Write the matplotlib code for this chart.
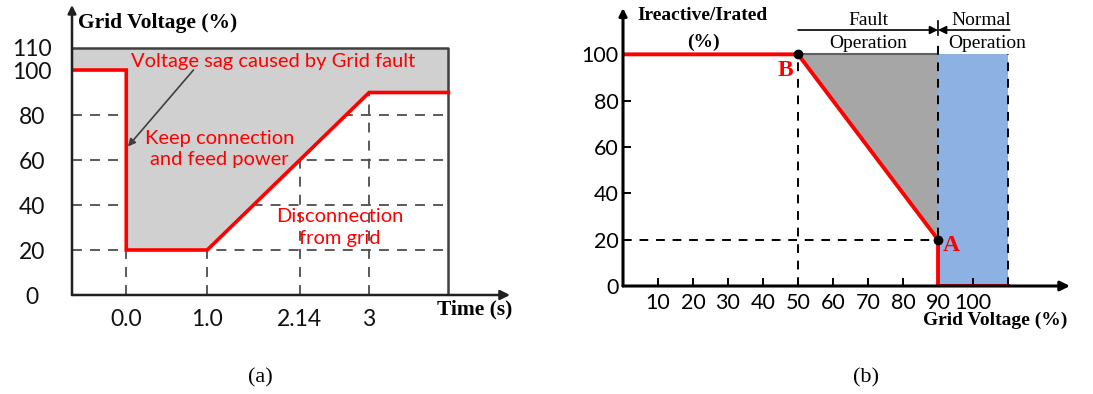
import numpy as np
import matplotlib
matplotlib.use("Agg")
import matplotlib.pyplot as plt

# ---- (a) fault ride-through voltage profile ----
t_ticks = [0.0, 1.0, 2.14, 3]
t_tick_labels = ["0.0", "1.0", "2.14", "3"]
v_ticks = [0, 20, 40, 60, 80, 100, 110]
t_start, t_end = -0.67, 3.98
t_profile = [t_start, 0.0, 0.0, 1.0, 3.0, t_end]
v_profile = [100, 100, 20, 20, 90, 90]
v_top = 110
v_grid = [20, 40, 60, 80]

# ---- (b) reactive current requirement ----
gv_ticks = [10, 20, 30, 40, 50, 60, 70, 80, 90, 100]
iq_ticks = [0, 20, 40, 60, 80, 100]
gv_curve = [0, 50, 90, 90, 110]
iq_curve = [100, 100, 20, 0, 0]
point_b = (50, 100)
point_a = (90, 20)
normal_band = (90, 110)

RED = "#ff0000"
DASH_GRAY = "#4d4d4d"
SANS = "Lato"
SERIF = "Liberation Serif"

fig = plt.figure(figsize=(10.93, 3.94), dpi=100)

# ---------------- panel (a) ----------------
ax = fig.add_axes([72 / 1093, (394 - 295) / 394, (510 - 72) / 1093, (295 - 5) / 394])
ax.set_xlim(t_start, 4.74)
ax.set_ylim(0, 128.9)
for s in ax.spines.values():
    s.set_visible(False)

ax.fill_between(t_profile, v_profile, v_top, color="#d0d0d0", zorder=2, lw=0)
ax.plot([t_start, t_end, t_end], [v_top, v_top, 0], color="#404040", lw=1.8, zorder=3)

for v in v_grid:
    ax.plot([t_start, t_end], [v, v], ls=(0, (5.5, 4.5)), color=DASH_GRAY, lw=1.3, zorder=1)
for t in t_ticks:
    top = np.interp(t, t_profile[3:], v_profile[3:]) if t > 0 else 20
    ax.plot([t, t], [0, top], ls=(0, (5.5, 4.5)), color=DASH_GRAY, lw=1.3, zorder=1)

ax.plot(t_profile, v_profile, color=RED, lw=2.6, zorder=4, solid_joinstyle="miter")

# axes with arrow heads
ax.annotate("", xy=(4.74, 0), xytext=(t_start, 0), annotation_clip=False,
            arrowprops=dict(arrowstyle="-|>", color="#202020", lw=1.8, mutation_scale=14, shrinkA=0, shrinkB=0),
            zorder=5)
ax.annotate("", xy=(t_start, 128.9), xytext=(t_start, 0), annotation_clip=False,
            arrowprops=dict(arrowstyle="-|>", color="#202020", lw=1.8, mutation_scale=12, shrinkA=0, shrinkB=0),
            zorder=5)

ax.set_xticks(t_ticks, t_tick_labels)
ax.set_yticks(v_ticks, [str(v) for v in v_ticks])
ax.tick_params(axis="both", length=0, labelsize=16.5, labelcolor="#111111")
ax.tick_params(axis="x", pad=10)
ax.tick_params(axis="y", pad=29)
for lab in ax.get_xticklabels() + ax.get_yticklabels():
    lab.set_fontfamily(SANS)
for lab in ax.get_yticklabels():
    lab.set_horizontalalignment("center")

ax.text(-0.59, 121, "Grid Voltage (%)", family=SERIF, weight="bold", fontsize=15.5, va="center", ha="left")
ax.text(4.77, -6.5, "Time (s)", family=SERIF, weight="bold", fontsize=15.5, va="center", ha="right")

ax.text(1.81, 104, "Voltage sag caused by Grid fault", color=RED, family=SANS, fontsize=14.5,
        ha="center", va="center", zorder=6)
ax.text(1.15, 65, "Keep connection\nand feed power", color=RED, family=SANS, fontsize=14.5,
        ha="center", va="center", linespacing=1.3, zorder=6)
ax.text(2.64, 30, "Disconnection\nfrom grid", color=RED, family=SANS, fontsize=14.5,
        ha="center", va="center", linespacing=1.3, zorder=6)
ax.annotate("", xy=(0.02, 66), xytext=(0.83, 100),
            arrowprops=dict(arrowstyle="-|>", color="#404040", lw=1.2, mutation_scale=11, shrinkA=0, shrinkB=0),
            zorder=6)

# ---------------- panel (b) ----------------
bx = fig.add_axes([623 / 1093, (394 - 286) / 394, (1070 - 623) / 1093, (286 - 8) / 394])
bx.set_xlim(0, 127.7)
bx.set_ylim(0, 120)
for s in bx.spines.values():
    s.set_visible(False)

bx.fill_between([point_b[0], point_a[0]], [point_b[1], point_a[1]], 100, color="#a6a6a6", lw=0, zorder=1)
bx.axvspan(*normal_band, ymin=0, ymax=100 / 120, color="#8eb1e3", lw=0, zorder=1)
bx.plot([point_b[0], normal_band[0]], [100, 100], color="#606060", lw=1.5, zorder=2)

dash = (0, (4.5, 4))
bx.plot([point_b[0], point_b[0]], [0, 100], ls=dash, color="black", lw=1.4, zorder=3)
bx.plot([normal_band[0], normal_band[0]], [0, 106], ls=dash, color="black", lw=1.4, zorder=3)
bx.plot([normal_band[1], normal_band[1]], [0, 100], ls=dash, color="black", lw=1.4, zorder=3)
bx.plot([0, point_a[0]], [point_a[1], point_a[1]], ls=dash, color="black", lw=1.4, zorder=3)
bx.plot([normal_band[0], normal_band[0]], [108.5, 114.5], color="black", lw=1.2, zorder=3)

bx.plot(gv_curve, iq_curve, color=RED, lw=2.8, zorder=4, solid_joinstyle="miter")
bx.plot(*zip(point_b, point_a), "o", color="black", ms=6, zorder=5)
bx.text(46.3, 93, "B", color=RED, family=SERIF, weight="bold", fontsize=17, ha="center", va="center")
bx.text(93.8, 17.5, "A", color=RED, family=SERIF, weight="bold", fontsize=17, ha="center", va="center")

bx.annotate("", xy=(0, 0), xytext=(127.7, 0), annotation_clip=False,
            arrowprops=dict(arrowstyle="<|-", color="black", lw=2.2, mutation_scale=14, shrinkA=0, shrinkB=0),
            zorder=6)
bx.annotate("", xy=(0, 120), xytext=(0, 0), annotation_clip=False,
            arrowprops=dict(arrowstyle="-|>", color="black", lw=2.2, mutation_scale=11, shrinkA=0, shrinkB=0),
            zorder=6)

# operation region arrows
bx.annotate("", xy=(normal_band[0], 110.5), xytext=(point_b[0], 110.5),
            arrowprops=dict(arrowstyle="-|>", color="black", lw=1.2, mutation_scale=12, shrinkA=0, shrinkB=0))
bx.annotate("", xy=(normal_band[0], 110.5), xytext=(normal_band[1] + 0.5, 110.5),
            arrowprops=dict(arrowstyle="-|>", color="black", lw=1.2, mutation_scale=12, shrinkA=0, shrinkB=0))
bx.text(70, 114.8, "Fault", family=SERIF, fontsize=14, ha="center", va="center")
bx.text(70, 104.8, "Operation", family=SERIF, fontsize=14, ha="center", va="center")
bx.text(102.2, 114.8, "Normal", family=SERIF, fontsize=14, ha="center", va="center")
bx.text(104, 104.8, "Operation", family=SERIF, fontsize=14, ha="center", va="center")

bx.text(22.7, 116.6, "Ireactive/Irated", family=SERIF, weight="bold", fontsize=14, ha="center", va="center")
bx.text(22.9, 105.3, "(%)", family=SERIF, weight="bold", fontsize=14, ha="center", va="center")
bx.text(106.4, -14.7, "Grid Voltage (%)", family=SERIF, weight="bold", fontsize=14, ha="center", va="center")

bx.set_xticks(gv_ticks, [str(v) for v in gv_ticks])
bx.set_yticks(iq_ticks, [str(v) for v in iq_ticks])
bx.tick_params(axis="both", direction="in", length=5.5, width=1.4, color="black", labelsize=15.5)
bx.tick_params(axis="x", pad=5)
bx.tick_params(axis="y", pad=3)
for lab in bx.get_xticklabels() + bx.get_yticklabels():
    lab.set_fontfamily(SANS)

fig.text(260 / 1093, 1 - 378 / 394, "(a)", family=SERIF, fontsize=16, ha="center", va="center")
fig.text(866 / 1093, 1 - 378 / 394, "(b)", family=SERIF, fontsize=16, ha="center", va="center")

fig.savefig("out.png", dpi=100)
